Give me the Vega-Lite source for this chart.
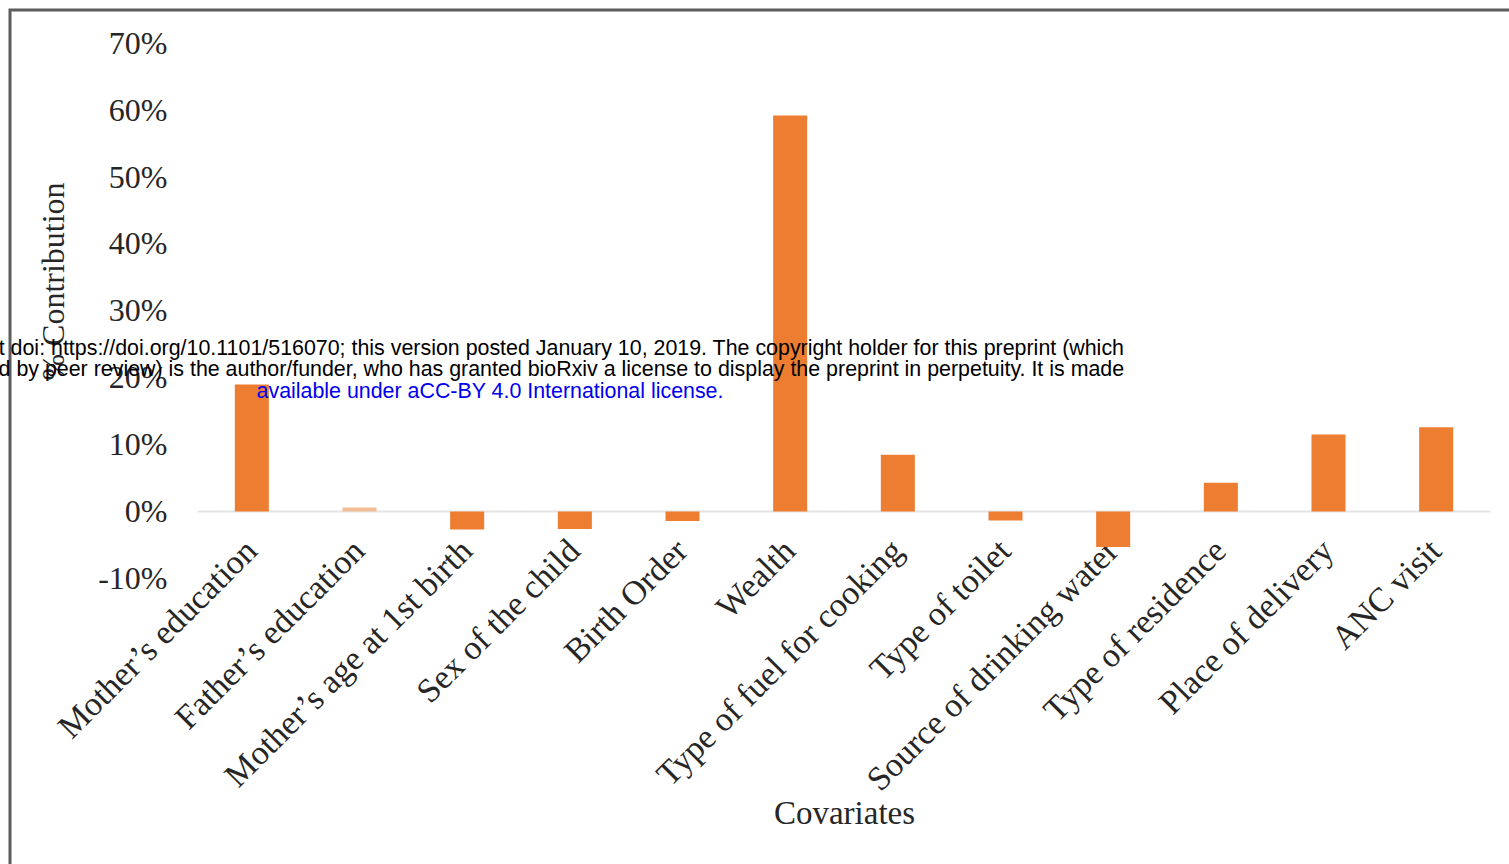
{
  "$schema": "https://vega.github.io/schema/vega-lite/v6.json",
  "width": 1499,
  "height": 854,
  "autosize": "none",
  "padding": {"left": 10, "top": 10, "right": 0, "bottom": 0},
  "background": "white",
  "config": {
    "view": {"stroke": "#5c5c5c", "strokeWidth": 3, "strokeDash": [1499, 2353, 854]},
    "font": "Liberation Serif"
  },
  "title": {
    "text": ["bioRxiv preprint doi: https://doi.org/10.1101/516070; this version posted January 10, 2019. The copyright holder for this preprint (which", "was not certified by peer review) is the author/funder, who has granted bioRxiv a license to display the preprint in perpetuity. It is made"],
    "subtitle": "available under aCC-BY 4.0 International license.",
    "font": "Liberation Sans",
    "fontSize": 21.4,
    "fontWeight": "normal",
    "color": "#000000",
    "lineHeight": 21.5,
    "subtitleFont": "Liberation Sans",
    "subtitleFontSize": 21.4,
    "subtitleColor": "#0000ee",
    "subtitleLineHeight": 21.5,
    "subtitlePadding": 0,
    "anchor": "middle",
    "frame": "group",
    "orient": "top",
    "offset": 0,
    "dx": -269.5,
    "dy": 392
  },
  "data": {
    "values": [
      {"covariate": "Mother’s education", "value": 19.0},
      {"covariate": "Father’s education", "value": 0.6},
      {"covariate": "Mother’s age at 1st birth", "value": -2.7},
      {"covariate": "Sex of the child", "value": -2.6},
      {"covariate": "Birth Order", "value": -1.4},
      {"covariate": "Wealth", "value": 59.2},
      {"covariate": "Type of fuel for cooking", "value": 8.5},
      {"covariate": "Type of toilet", "value": -1.35},
      {"covariate": "Source of drinking water", "value": -5.3},
      {"covariate": "Type of residence", "value": 4.3},
      {"covariate": "Place of delivery", "value": 11.5},
      {"covariate": "ANC visit", "value": 12.6}
    ]
  },
  "layer": [
    {
      "mark": {"type": "tick", "orient": "horizontal", "size": 108, "thickness": 2, "color": "#d9d9d9"},
      "encoding": {
        "x": {
          "field": "covariate",
          "type": "nominal",
          "sort": null,
          "scale": {"range": [188, 1480], "paddingInner": 0.684, "paddingOuter": 0.342, "align": 0.5}
        },
        "y": {"datum": 0, "type": "quantitative"}
      }
    },
    {
      "mark": {"type": "bar"},
      "encoding": {
        "x": {
          "field": "covariate",
          "type": "nominal",
          "sort": null,
          "axis": {
            "orient": "bottom",
            "offset": -352.5,
            "domain": false,
            "ticks": false,
            "tickSize": 0,
            "grid": false,
            "labelAngle": -45,
            "labelAlign": "right",
            "labelBaseline": "middle",
            "labelPadding": 34,
            "labelFontSize": 34,
            "labelColor": "#262626",
            "labelLimit": 1000,
            "labelOverlap": false,
            "title": "Covariates",
            "titleFontSize": 33,
            "titleFontWeight": "normal",
            "titleColor": "#262626",
            "titleX": 834,
            "titleY": 312,
            "titleBaseline": "alphabetic",
            "titleAlign": "center"
          }
        },
        "y": {
          "field": "value",
          "type": "quantitative",
          "scale": {"domain": [-52.7, 74.98], "nice": false, "zero": false},
          "axis": {
            "orient": "left",
            "values": [-10, 0, 10, 20, 30, 40, 50, 60, 70],
            "labelExpr": "datum.value + '%'",
            "domain": false,
            "ticks": false,
            "tickSize": 0,
            "grid": false,
            "labelPadding": -157,
            "labelAlign": "right",
            "labelBaseline": "middle",
            "labelFlush": false,
            "labelOverlap": false,
            "labelFontSize": 32,
            "labelColor": "#262626",
            "title": "% Contribution",
            "titleFontSize": 32,
            "titleFontWeight": "normal",
            "titleColor": "#262626",
            "titleAngle": -90,
            "titleX": 53,
            "titleY": 271,
            "titleAlign": "center",
            "titleBaseline": "alphabetic"
          }
        },
        "y2": {"datum": 0},
        "color": {
          "condition": {"test": "datum.covariate === 'Father’s education'", "value": "#F2BC95"},
          "value": "#ED7D31"
        }
      }
    }
  ]
}
